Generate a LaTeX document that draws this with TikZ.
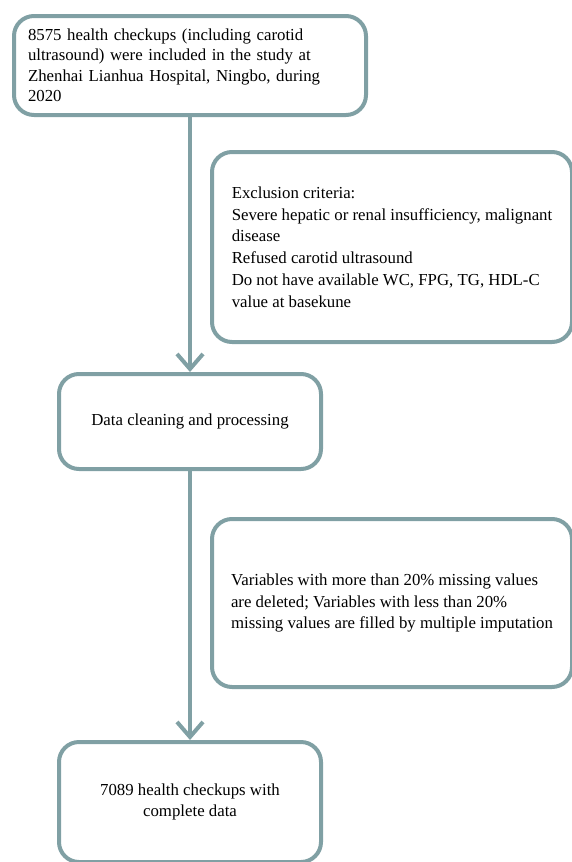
\documentclass[tikz,border=0pt]{standalone}
\usepackage{fontspec}
\setmainfont{Liberation Serif}
\usetikzlibrary{arrows.meta,positioning}
\definecolor{boxline}{RGB}{128,160,164}
\tikzstyle{block} = [rectangle, draw=boxline, line width=4pt, rounded corners=20pt, align=left, inner sep=0pt, anchor=north west, font=\fontsize{16.8}{21.8}\selectfont]
\tikzstyle{flow} = [draw=boxline, line width=4pt, -{Straight Barb[length=15pt,width=26pt]}]

\begin{document}
\begin{tikzpicture}[x=1pt, y=-1pt]
    \useasboundingbox (0,0) rectangle (572,862);
    \node[block, font=\fontsize{16.8}{20.5}\selectfont, text width=324pt, minimum width=352pt, minimum height=99pt] (r1) at (12,14) {8575 health checkups (including carotid\\\makebox[284pt][s]{ultrasound) were included in the study at}\\\makebox[284pt][s]{Zhenhai Lianhua Hospital, Ningbo, during}\\2020};
    \node[block, minimum width=360pt, minimum height=190pt] (ex1) at (210,150) {Exclusion criteria:\\Severe hepatic or renal insufficiency, malignant\\disease\\Refused carotid ultrasound\\Do not have available WC, FPG, TG, HDL-C\\value at basekune};
    \node[block, align=center, minimum width=262pt, minimum height=95pt] (r2) at (57,372) {Data cleaning and processing};
    \node[block, minimum width=360pt, minimum height=168pt] (ex2) at (210,517) {Variables with more than 20\% missing values\\are deleted; Variables with less than 20\%\\missing values are filled by multiple imputation};
    \node[block, align=center, minimum width=262pt, minimum height=120pt] (r3) at (57,740) {7089 health checkups with\\complete data};

    \draw[flow] (r1) -- (r2);
    \draw[flow] (r2) -- (r3);
\end{tikzpicture}
\end{document}
